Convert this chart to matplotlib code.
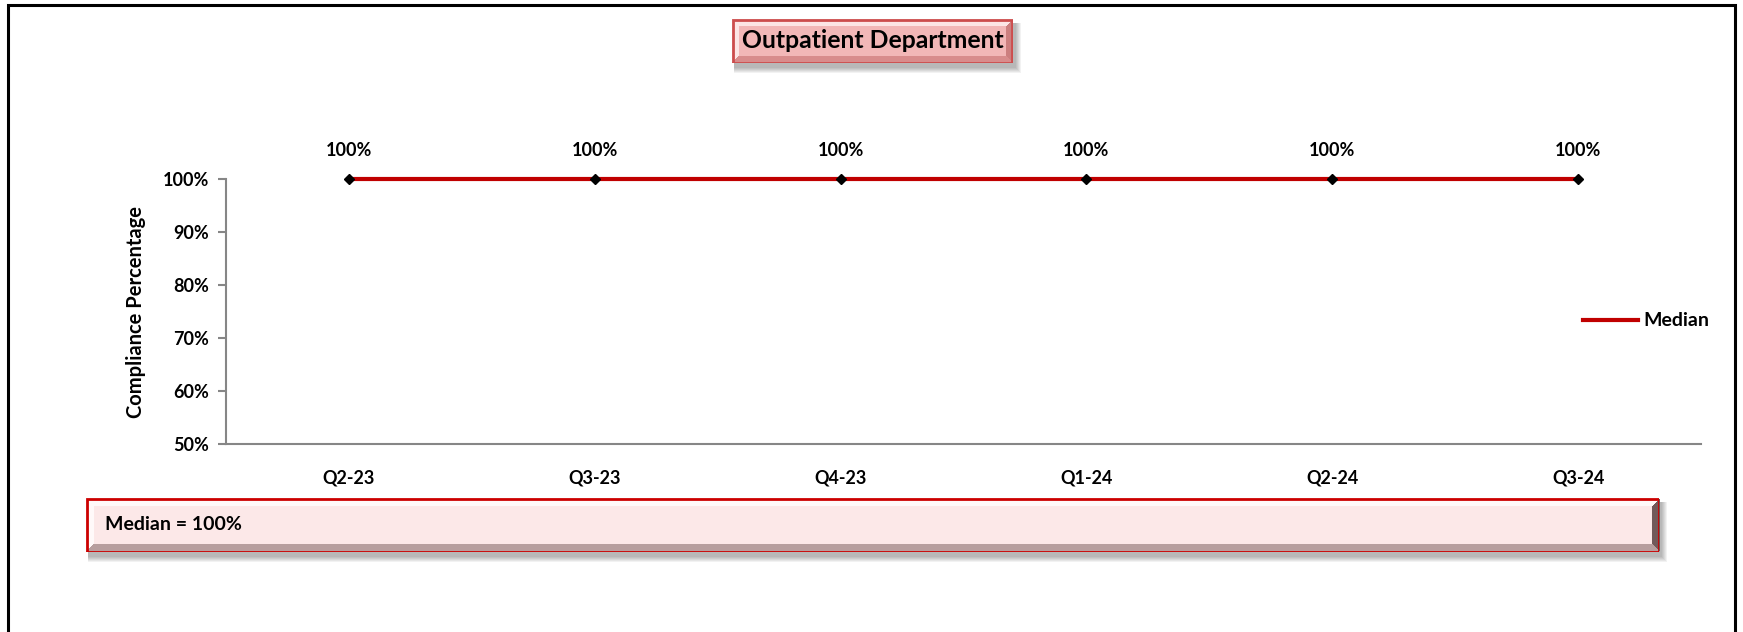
import numpy as np
import matplotlib
matplotlib.use("Agg")
import matplotlib.pyplot as plt
from matplotlib.patches import Rectangle
from matplotlib.ticker import PercentFormatter

categories = ["Q2-23", "Q3-23", "Q4-23", "Q1-24", "Q2-24", "Q3-24"]
median_values = [100, 100, 100, 100, 100, 100]
y_ticks = [50, 60, 70, 80, 90, 100]
title_text = "Outpatient Department"
ylabel_text = "Compliance Percentage"
legend_label = "Median"
summary_text = "Median = 100%"

W, H = 1743, 632
DPI = 100
plt.rcParams['font.family'] = ['Lato', 'DejaVu Sans']
plt.rcParams['font.weight'] = 'bold'

fig = plt.figure(figsize=(W / DPI, H / DPI), dpi=DPI)
fig.patch.set_facecolor("white")


def px(x0, y0, x1, y1):
    """pixel box (top-left origin) -> figure fraction rect"""
    return [x0 / W, 1 - y1 / H, (x1 - x0) / W, (y1 - y0) / H]


# outer frame
frame_ax = fig.add_axes([0, 0, 1, 1], zorder=-5)
frame_ax.set_xlim(0, W)
frame_ax.set_ylim(H, 0)
frame_ax.axis("off")
frame_ax.plot([8, 8, 1735, 1735], [H + 5, 5, 5, H + 5], color="black", lw=2.2,
              solid_joinstyle="miter")


def bevel_box(x0, y0, x1, y1, base, top_col, bot_col, right_col, bevel, edge, shadow=True):
    w, h = int(x1 - x0), int(y1 - y0)
    img = np.ones((h, w, 3)) * np.array(base)
    yy, xx = np.mgrid[0:h, 0:w]
    top = (yy < bevel) & (xx >= yy) & (w - xx > yy)
    bot = (h - 1 - yy < bevel) & (xx >= h - 1 - yy) & (w - xx > h - 1 - yy)
    left = (xx < bevel) & ~top & ~bot
    right = (w - 1 - xx < bevel) & ~top & ~bot
    img[top] = top_col
    img[bot] = bot_col
    img[left] = top_col
    img[right] = right_col
    if shadow:
        for k in range(6, 0, -1):
            frame_ax.add_patch(Rectangle((x0 + 2, y0 + 4), (x1 - x0) + k, (y1 - y0) + k,
                                         facecolor="black", alpha=0.05, edgecolor="none",
                                         zorder=1))
    ax = fig.add_axes(px(x0, y0, x1, y1), zorder=2)
    ax.imshow(img, aspect="auto", interpolation="bilinear", extent=[0, w, h, 0])
    ax.set_xlim(0, w)
    ax.set_ylim(h, 0)
    ax.axis("off")
    ax.add_patch(Rectangle((0.5, 0.5), w - 1, h - 1, facecolor="none", edgecolor=edge, lw=2))
    return ax


# title box
tb = bevel_box(732, 19, 1013, 63, base=(0.95, 0.72, 0.72), top_col=(0.99, 0.90, 0.90),
               bot_col=(0.85, 0.55, 0.55), right_col=(0.80, 0.50, 0.50), bevel=7,
               edge=(0.80, 0.30, 0.30))
tb.text(0.5, 0.5, title_text, transform=tb.transAxes, ha="center", va="center",
        fontsize=17.8, fontweight="bold", color="black")

# summary box
sb = bevel_box(86, 498, 1659, 552, base=(0.99, 0.91, 0.91), top_col=(1.0, 0.98, 0.98),
               bot_col=(0.72, 0.62, 0.62), right_col=(0.45, 0.35, 0.35), bevel=8,
               edge=(0.80, 0.0, 0.0))
sb.text(19 / (1659 - 86), 0.5, summary_text, transform=sb.transAxes, ha="left", va="center",
        fontsize=14, fontweight="bold", color="black")

# main axes
ax = fig.add_axes(px(226, 179, 1701, 444), zorder=3)
ax.patch.set_alpha(0)
x = np.arange(len(categories))
vals = np.array(median_values)
ax.plot(x, vals, color="#C00000", lw=3, marker="D", markersize=5,
        markerfacecolor="black", markeredgecolor="black", clip_on=False, label=legend_label,
        zorder=4)
for xi, v in zip(x, vals):
    ax.annotate(f"{v:.0f}%", (xi, v), xytext=(0, 28), textcoords="offset pixels",
                ha="center", va="center", fontsize=13, fontweight="bold")

ax.set_xlim(-0.5, len(categories) - 0.5)
ax.set_ylim(50, 100)
ax.set_yticks(y_ticks)
ax.yaxis.set_major_formatter(PercentFormatter(decimals=0))
ax.set_xticks(x)
ax.set_xticklabels(categories)
for s in ["top", "right"]:
    ax.spines[s].set_visible(False)
for s in ["left", "bottom"]:
    ax.spines[s].set_color("#868686")
    ax.spines[s].set_linewidth(1.5)
ax.tick_params(axis="y", length=6, width=1.5, color="#868686", labelsize=13, pad=6)
ax.tick_params(axis="x", length=0, labelsize=13, pad=18)
for lab in ax.get_xticklabels() + ax.get_yticklabels():
    lab.set_fontweight("bold")
ax.set_ylabel(ylabel_text, fontsize=14.5, fontweight="bold", labelpad=12)

leg = ax.legend(loc="center left", bbox_to_anchor=(1583 / W, 1 - 321 / H),
                bbox_transform=fig.transFigure, frameon=False, fontsize=14,
                handlelength=2.85, handletextpad=0.25, borderaxespad=0, borderpad=0)
for line in leg.get_lines():
    line.set_marker("")
for t in leg.get_texts():
    t.set_fontweight("bold")

fig.savefig("out.png", dpi=DPI)
